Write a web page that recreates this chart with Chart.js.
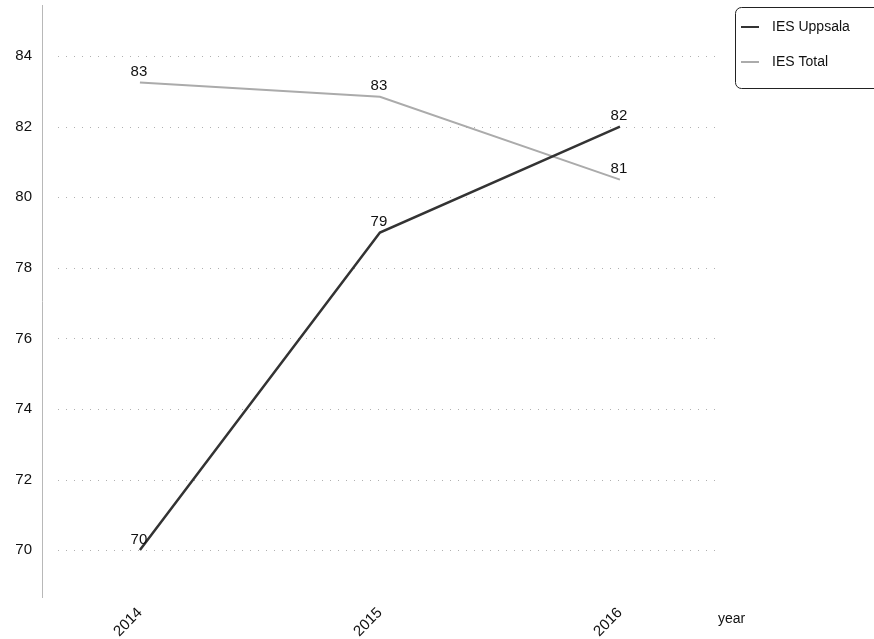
<!DOCTYPE html>
<html><head><meta charset="utf-8">
<script src="https://cdn.jsdelivr.net/npm/chart.js@4/dist/chart.umd.min.js"></script>
<style>html,body{margin:0;padding:0;background:#fff}#wrap{width:874px;height:639px}</style>
</head><body><div id="wrap"><canvas id="c" width="874" height="639"></canvas></div>
<script>
const years = [2014, 2015, 2016];
const uppsala = [70, 79, 82];
const total = [83.25, 82.85, 80.5];
const yTicks = [70, 72, 74, 76, 78, 80, 82, 84];
const seriesNames = ['IES Uppsala', 'IES Total'];
const xTitle = 'year';

const FONT = '"Liberation Sans", Arial, sans-serif';

const extras = {
  id: 'extras',
  beforeDatasetsDraw(chart) {
    const ctx = chart.ctx, y = chart.scales.y, area = chart.chartArea;
    ctx.save();
    ctx.strokeStyle = '#b0b0b0';
    ctx.lineWidth = 1;
    ctx.setLineDash([1, 7]);
    yTicks.forEach(v => {
      const py = Math.round(y.getPixelForValue(v)) + 0.5;
      ctx.beginPath(); ctx.moveTo(area.left + 16, py); ctx.lineTo(area.right, py); ctx.stroke();
    });
    ctx.restore();
  },
  afterDatasetsDraw(chart) {
    const ctx = chart.ctx;
    ctx.save();
    ctx.font = '15px ' + FONT;
    ctx.fillStyle = '#111';
    ctx.textAlign = 'center';
    ctx.textBaseline = 'bottom';
    chart.data.datasets.forEach((ds, i) => {
      const meta = chart.getDatasetMeta(i);
      meta.data.forEach((pt, j) => {
        ctx.fillText(String(Math.round(ds.data[j].y)), pt.x - 1, pt.y - 3);
      });
    });
    // axis title
    ctx.textAlign = 'left';
    ctx.textBaseline = 'middle';
    ctx.font = '14px ' + FONT;
    ctx.fillText(xTitle, 718, 619);
    // legend
    const lx = 735.5, ly = 7.5, lw = 150, lh = 81, r = 6;
    ctx.strokeStyle = '#222';
    ctx.lineWidth = 1;
    ctx.beginPath();
    ctx.moveTo(lx + r, ly); ctx.lineTo(lx + lw, ly);
    ctx.moveTo(lx + lw, ly + lh); ctx.lineTo(lx + r, ly + lh);
    ctx.arcTo(lx, ly + lh, lx, ly + lh - r, r);
    ctx.lineTo(lx, ly + r);
    ctx.arcTo(lx, ly, lx + r, ly, r);
    ctx.stroke();
    ctx.font = '14px ' + FONT;
    chart.data.datasets.forEach((ds, i) => {
      const yy = 27 + i * 35;
      ctx.strokeStyle = ds.borderColor;
      ctx.lineWidth = 2;
      ctx.beginPath(); ctx.moveTo(741, yy); ctx.lineTo(759, yy); ctx.stroke();
      ctx.fillStyle = '#111';
      ctx.fillText(ds.label, 772, yy);
    });
    ctx.restore();
  }
};

new Chart(document.getElementById('c'), {
  type: 'line',
  data: {
    datasets: [
      { label: seriesNames[0], data: years.map((x, i) => ({x, y: uppsala[i]})), borderColor: '#333333', borderWidth: 2.5, pointRadius: 0, tension: 0 },
      { label: seriesNames[1], data: years.map((x, i) => ({x, y: total[i]})), borderColor: '#ababab', borderWidth: 2, pointRadius: 0, tension: 0 }
    ]
  },
  options: {
    responsive: false,
    animation: false,
    layout: { padding: { left: 0, right: 159, top: 5, bottom: 0 } },
    plugins: { legend: { display: false }, tooltip: { enabled: false } },
    scales: {
      x: {
        type: 'linear', min: 2013.592, max: 2016.396,
        afterBuildTicks: s => { s.ticks = years.map(v => ({ value: v })); },
        afterFit: s => { s.height = 42; s.paddingLeft = 0; s.paddingRight = 0; },
        grid: { display: false, drawTicks: false },
        border: { display: false },
        ticks: { minRotation: 45, maxRotation: 45, padding: 7, color: '#111', font: { size: 15, family: FONT }, callback: v => String(v) }
      },
      y: {
        min: 68.67, max: 85.45,
        afterBuildTicks: s => { s.ticks = yTicks.map(v => ({ value: v })); },
        afterFit: s => { s.width = 42; s.paddingTop = 0; s.paddingBottom = 0; },
        grid: { display: false, drawTicks: false },
        border: { display: true, color: '#b8b8b8', width: 1, dash: [2, 1] },
        ticks: { padding: 10, color: '#111', font: { size: 15, family: FONT }, callback: v => String(v) }
      }
    }
  },
  plugins: [extras]
});
</script></body></html>
